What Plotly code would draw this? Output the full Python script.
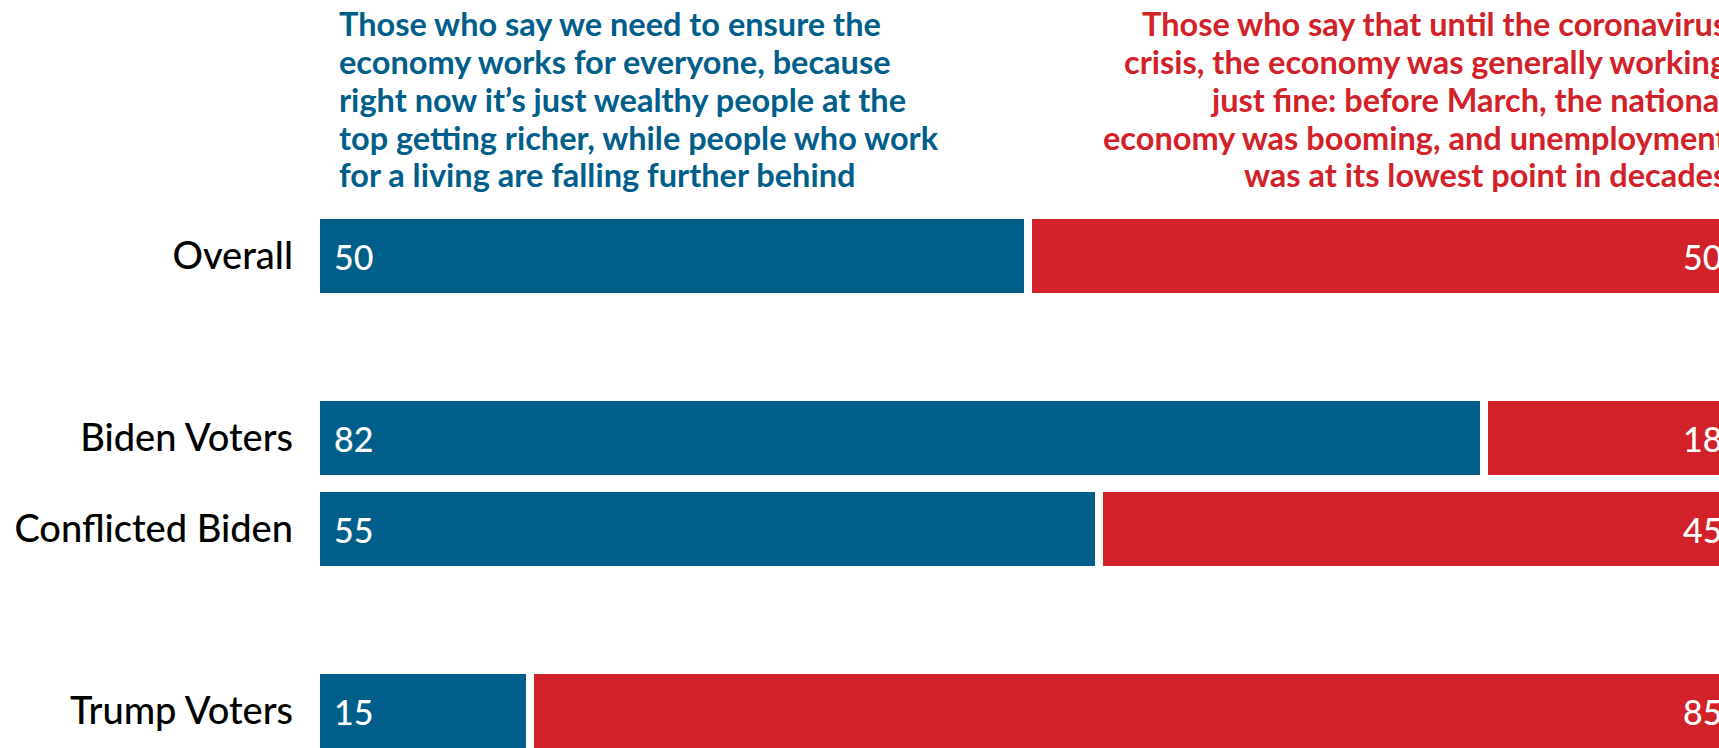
import plotly.graph_objects as go

# ---- data ----
categories = ["Overall", "Biden Voters", "Conflicted Biden", "Trump Voters"]
fair_economy = [50, 82, 55, 15]      # blue: economy must work for everyone
fine_economy = [50, 18, 45, 85]      # red: economy was working just fine
blue_header_lines = [
    "Those who say we need to ensure the",
    "economy works for everyone, because",
    "right now it’s just wealthy people at the",
    "top getting richer, while people who work",
    "for a living are falling further behind",
]
red_header_lines = [
    "Those who say that until the coronavirus",
    "crisis, the economy was generally working",
    "just fine: before March, the national",
    "economy was booming, and unemployment",
    "was at its lowest point in decades",
]

# ---- layout constants (pixels) ----
row_slot = [0, 2, 3, 5]          # rows, with empty slots as group separators
BLUE = "#005E8A"
RED = "#D22229"
FONT = "Lato"
W, H = 1719, 748
LEFT = 316
PX_PER_UNIT = 14.24
SLOT_PX = 91
FIRST_ROW_PX = 256
GAP = 8
HEAD_SIZE = 32.5
HEAD_FIRST_BASELINE = 36.3
HEAD_LINE_STEP = 37.8
VAL_SIZE = 34

fig = go.Figure()
for vals, color in ((fair_economy, BLUE), (fine_economy, RED)):
    fig.add_trace(go.Bar(
        y=row_slot, x=vals, orientation="h",
        marker=dict(color=color, line=dict(color="white", width=GAP)),
        width=0.9, hoverinfo="skip",
    ))

x_max = (W - LEFT) / PX_PER_UNIT
y_top = -FIRST_ROW_PX / SLOT_PX
y_bot = (H - FIRST_ROW_PX) / SLOT_PX

fig.update_layout(
    width=W, height=H, barmode="stack", showlegend=False,
    plot_bgcolor="white", paper_bgcolor="white",
    margin=dict(l=LEFT, r=0, t=0, b=0),
    xaxis=dict(range=[0, x_max], visible=False, fixedrange=True),
    yaxis=dict(range=[y_bot, y_top], tickvals=row_slot, ticktext=categories,
               showgrid=False, zeroline=False, showline=False, ticks="",
               ticklabelstandoff=22, fixedrange=True,
               tickfont=dict(family=FONT, size=38, color="black", weight=500)),
)

# value labels
for slot, b, r in zip(row_slot, fair_economy, fine_economy):
    fig.add_annotation(
        text=str(b), xref="x", yref="y", x=0, y=slot,
        xanchor="left", yanchor="middle", showarrow=False, xshift=16,
        font=dict(family=FONT, size=VAL_SIZE, color="white", weight=500),
    )
    fig.add_annotation(
        text=str(r), xref="paper", yref="y", x=1, y=slot,
        xanchor="right", yanchor="middle", showarrow=False, xshift=5,
        font=dict(family=FONT, size=VAL_SIZE, color="white", weight=500),
    )

# header statements, one annotation per line
baseline_to_center = 0.387 * HEAD_SIZE
for i, (bl, rl) in enumerate(zip(blue_header_lines, red_header_lines)):
    center_px = HEAD_FIRST_BASELINE + i * HEAD_LINE_STEP - baseline_to_center
    ypos = 1 - center_px / H
    fig.add_annotation(
        text=bl, xref="x", yref="paper", x=0, y=ypos,
        xanchor="left", yanchor="middle", showarrow=False, xshift=21,
        font=dict(family=FONT, size=HEAD_SIZE, color=BLUE, weight=700),
    )
    fig.add_annotation(
        text=rl, xref="paper", yref="paper", x=1, y=ypos,
        xanchor="right", yanchor="middle", showarrow=False, xshift=10,
        font=dict(family=FONT, size=HEAD_SIZE, color=RED, weight=700),
    )

fig.write_html(
    "out.html",
    config={"displayModeBar": False, "staticPlot": True},
    post_script="document.body.style.margin='0';"
                "document.documentElement.style.overflow='hidden';",
)
